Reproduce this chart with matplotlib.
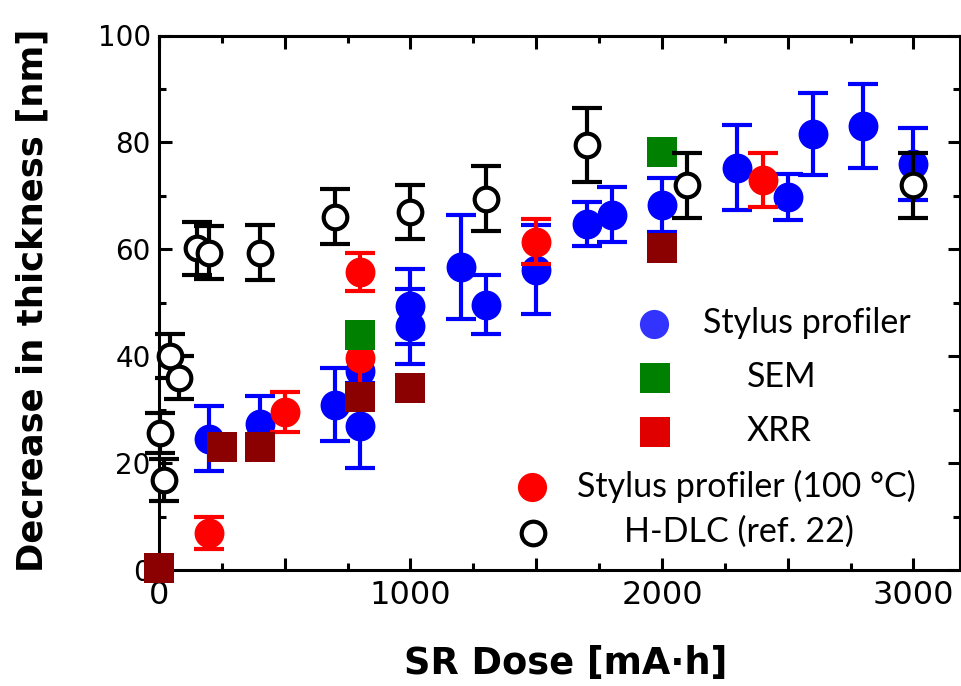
import numpy as np
import matplotlib.pyplot as plt
from matplotlib.ticker import MultipleLocator

# Stylus profiler (blue)
sp_x = [200, 400, 700, 800, 800, 1000, 1000, 1200, 1300, 1500, 1700, 1800, 2000, 2300, 2500, 2600, 2800, 3000]
sp_y = [24.6, 27.4, 30.9, 37.2, 27.0, 49.3, 45.6, 56.7, 49.6, 56.2, 64.7, 66.5, 68.3, 75.3, 69.8, 81.6, 83.1, 76.0]
sp_e = [6.0, 5.2, 6.8, 5.3, 8.0, 7.0, 7.0, 9.7, 5.5, 8.3, 4.1, 5.1, 5.1, 8.0, 4.3, 7.7, 7.9, 6.7]

# Stylus profiler 100 C (red)
sp100_x = [200, 500, 800, 800, 1500, 2400]
sp100_y = [6.9, 29.6, 55.8, 39.6, 61.4, 73.0]
sp100_e = [3.0, 3.7, 3.6, 5.8, 4.2, 5.1]

# SEM (green)
sem_x = [800, 2000]
sem_y = [44.0, 78.2]

# XRR (dark red)
xrr_x = [0, 250, 400, 800, 1000, 2000]
xrr_y = [0.3, 23.1, 23.1, 32.3, 34.0, 60.3]

# H-DLC ref. 22 (open black)
dlc_x = [5, 20, 45, 80, 150, 200, 400, 700, 1000, 1300, 1700, 2100, 3000]
dlc_y = [25.6, 16.8, 40.0, 36.0, 60.2, 59.4, 59.4, 66.1, 67.0, 69.5, 79.5, 72.0, 72.0]
dlc_e = [3.7, 3.9, 4.1, 4.0, 5.0, 5.0, 5.1, 5.2, 5.0, 6.0, 6.9, 6.1, 6.1]

legend_labels = ['Stylus profiler', 'SEM', 'XRR', 'Stylus profiler (100 °C)', 'H-DLC (ref. 22)']

fig = plt.figure(figsize=(9.62, 6.86), dpi=100)
ax = fig.add_axes([159/962, 1 - 570/686, 801/962, 534.5/686])

eb = dict(fmt='o', ms=20.5, elinewidth=3, capsize=10.5, capthick=3, clip_on=False)
ax.errorbar(sp_x, sp_y, yerr=sp_e, color='#0000ff', mec='#0000ff', zorder=2, **eb)
ax.errorbar(sp100_x, sp100_y, yerr=sp100_e, color='#ff0000', mec='#ff0000', zorder=3, **eb)
ax.plot(sem_x, sem_y, 's', ms=21, mew=0, color='#008000', zorder=4, clip_on=False)
ax.plot(xrr_x, xrr_y, 's', ms=21, mew=0, color='#8b0000', zorder=5, clip_on=False)
ax.errorbar(dlc_x, dlc_y, yerr=dlc_e, fmt='o', ms=17, mfc='white', mec='black', mew=3,
            color='black', elinewidth=3, capsize=10.5, capthick=3, zorder=6, clip_on=False)

ax.set_xlim(0, 3185)
ax.set_ylim(0, 100)
ax.xaxis.set_minor_locator(MultipleLocator(250))
ax.yaxis.set_major_locator(MultipleLocator(20))
ax.yaxis.set_minor_locator(MultipleLocator(10))
ax.set_xticks([0, 500, 1000, 1500, 2000, 2500, 3000])
ax.set_xticklabels(['0', '', '1000', '', '2000', '', '3000'])

ax.tick_params(which='both', direction='in', top=True, right=True, width=2.2)
ax.tick_params(which='major', length=9)
ax.tick_params(which='minor', length=5)
ax.tick_params(axis='x', labelsize=23, pad=7)
ax.tick_params(axis='y', labelsize=20, pad=6)
for s in ax.spines.values():
    s.set_linewidth(2.2)

ax.set_xlabel('SR Dose [mA·h]', fontsize=26.5, fontweight='bold')
ax.set_ylabel('Decrease in thickness [nm]', fontsize=25.5, fontweight='bold')
ax.xaxis.set_label_coords(0.508, -0.140)
ax.yaxis.set_label_coords(-0.137, 0.505)

# legend drawn in axes coordinates
lg_font = dict(fontsize=24.5, family='Lato', va='center', transform=ax.transAxes)
ax.plot([0.618], [0.460], 'o', ms=21, mew=0, color='#3333ff', transform=ax.transAxes, clip_on=False)
ax.text(0.679, 0.462, legend_labels[0], **lg_font)
ax.plot([0.619], [0.359], 's', ms=21, mew=0, color='#008000', transform=ax.transAxes)
ax.text(0.734, 0.361, legend_labels[1], **lg_font)
ax.plot([0.619], [0.258], 's', ms=21, mew=0, color='#e00000', transform=ax.transAxes)
ax.text(0.734, 0.260, legend_labels[2], **lg_font)
ax.plot([0.466], [0.155], 'o', ms=21, mew=0, color='#ff0000', transform=ax.transAxes)
ax.text(0.522, 0.157, legend_labels[3], **lg_font)
ax.plot([0.467], [0.069], 'o', ms=17, mew=3, mfc='white', mec='black', transform=ax.transAxes)
ax.text(0.581, 0.071, legend_labels[4], **lg_font)

fig.savefig('out.png', dpi=100)
